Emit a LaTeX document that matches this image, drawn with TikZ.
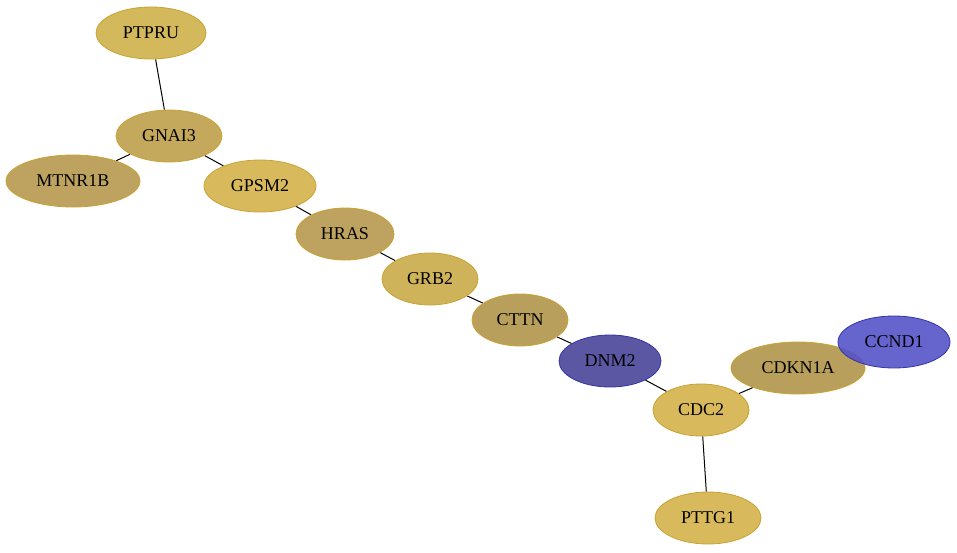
\documentclass[tikz,border=0pt]{standalone}
\usepackage{fontspec}
\setmainfont{Liberation Serif}
\usetikzlibrary{shapes.geometric}

\definecolor{goldA}{HTML}{D3B85C}
\definecolor{goldB}{HTML}{C4A95C}
\definecolor{goldC}{HTML}{BDA35F}
\definecolor{goldD}{HTML}{D8B95C}
\definecolor{goldE}{HTML}{CFB35A}
\definecolor{goldF}{HTML}{B8A05C}
\definecolor{goldEdge}{HTML}{C9A233}
\definecolor{blueA}{HTML}{5B57A3}
\definecolor{blueB}{HTML}{5553C8}
\definecolor{blueEdge}{HTML}{3434A8}

\pgfdeclarelayer{background}
\pgfsetlayers{background,main}

\begin{document}
\begin{tikzpicture}[x=1pt,y=-1pt,
	gene/.style={ellipse, draw=goldEdge, line width=0.8pt, inner sep=0pt, minimum height=52pt, font=\fontsize{18}{20}\selectfont},
	bluegene/.style={gene, draw=blueEdge},
	link/.style={line width=1pt, black}]
	\useasboundingbox (0,0) rectangle (957,552);

	\node[gene, fill=goldA, minimum width=110pt] (PTPRU) at (151,33) {PTPRU};
	\node[gene, fill=goldB, minimum width=106pt] (GNAI3) at (169,136) {GNAI3};
	\node[gene, fill=goldC, minimum width=134pt] (MTNR1B) at (73,181) {MTNR1B};
	\node[gene, fill=goldD, minimum width=112pt] (GPSM2) at (260,186) {GPSM2};
	\node[gene, fill=goldC, minimum width=98pt] (HRAS) at (345,234) {HRAS};
	\node[gene, fill=goldE, minimum width=96pt] (GRB2) at (430,279) {GRB2};
	\node[gene, fill=goldF, minimum width=96pt] (CTTN) at (520,320) {CTTN};
	\node[bluegene, fill=blueA, minimum width=102pt] (DNM2) at (610,361) {DNM2};
	\node[gene, fill=goldD, minimum width=96pt] (CDC2) at (701,410) {CDC2};
	\node[gene, fill=goldF, minimum width=134pt] (CDKN1A) at (798,368) {CDKN1A};
	\node[bluegene, fill=blueB, fill opacity=0.9, text opacity=1, minimum width=112pt] (CCND1) at (894,342) {CCND1};
	\node[gene, fill=goldD, minimum width=106pt] (PTTG1) at (708,518) {PTTG1};

	% edges behind the nodes
	\begin{pgfonlayer}{background}
	\draw[link] (PTPRU) -- (GNAI3);
	\draw[link] (GNAI3) -- (MTNR1B);
	\draw[link] (GNAI3) -- (GPSM2);
	\draw[link] (GPSM2) -- (HRAS);
	\draw[link] (HRAS) -- (GRB2);
	\draw[link] (GRB2) -- (CTTN);
	\draw[link] (CTTN) -- (DNM2);
	\draw[link] (DNM2) -- (CDC2);
	\draw[link] (CDC2) -- (CDKN1A);
	\draw[link] (CDKN1A) -- (CCND1);
	\draw[link] (CDC2) -- (PTTG1);
	\end{pgfonlayer}
\end{tikzpicture}
\end{document}
